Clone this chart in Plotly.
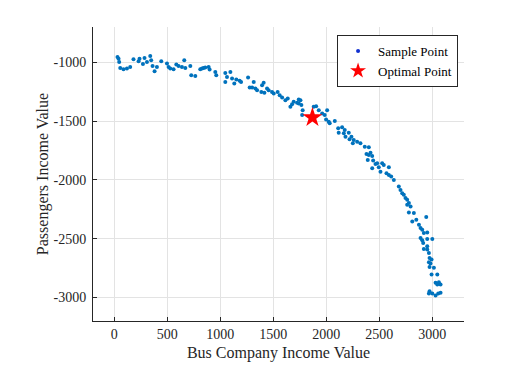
import plotly.graph_objects as go

# sample points (bus income, passengers income)
bus_income = [
    31, 41, 47, 57, 88, 120, 151, 182, 230, 239, 271, 286, 309, 340, 349, 362, 381, 403,
    444, 498, 513, 529, 560, 586, 607, 639, 661, 671, 718, 727, 765, 812, 843,
    828, 859, 891, 900, 954, 963, 1048, 1064, 1096, 1048, 1112, 1133, 1152, 1183, 1197,
    1263, 1278, 1301, 1316, 1332, 1348, 1395, 1410, 1388, 1417, 1442, 1457, 1489, 1505,
    1542, 1561, 1584, 1615, 1637, 1662, 1678, 1693, 1725, 1741,
    1741, 1757, 1766, 1778, 1773, 1882, 1905, 1930, 1962, 1986, 2009, 1999, 2024, 2033,
    2081, 2113, 2118, 2150, 2175, 2166, 2182, 2213, 2220, 2238, 2260, 2251, 2292, 2323,
    2364, 2402,
    2380, 2402, 2418, 2434, 2392, 2443, 2465, 2434, 2481, 2496, 2528, 2543, 2591, 2512,
    2569, 2591, 2613, 2638,
    2685, 2701, 2717, 2732, 2748, 2764, 2780, 2764, 2796, 2780, 2827, 2812, 2850, 2875,
    2890, 2906, 2944, 2921, 2953, 2890, 2906, 2953, 3001, 2915, 2953,
    2921, 2953, 2969, 2975, 2994, 2969, 2984, 2975, 3016, 2994, 3048, 3032, 3048, 3063,
    3079, 2975, 3001, 3057, 3032, 3079, 2969,
]
passenger_income = [
    -955, -969, -997, -1048, -1059, -1053, -1040, -975, -992, -969, -1014, -964, -997, -947, -983, -1031, -1076, -1040,
    -992, -1011, -1040, -1053, -1059, -1019, -1031, -1040, -983, -1048, -1031, -1110, -1116, -1059, -1048,
    -1053, -1045, -1040, -1062, -1082, -1110, -1091, -1125, -1082, -1167, -1138, -1181, -1147, -1158, -1167,
    -1130, -1214, -1214, -1167, -1223, -1237, -1195, -1175, -1252, -1260, -1223, -1237, -1252, -1265,
    -1252, -1280, -1299, -1322, -1308, -1379, -1356, -1336, -1345, -1316,
    -1350, -1322, -1364, -1407, -1449, -1379, -1373, -1407, -1435, -1449, -1407, -1486, -1506, -1519,
    -1500, -1562, -1599, -1553, -1576, -1604, -1633, -1599, -1655, -1633, -1661, -1689, -1675, -1689,
    -1718, -1723,
    -1780, -1788, -1769, -1797, -1831, -1836, -1864, -1901, -1858, -1892, -1858, -1873, -1892, -1930,
    -1943, -1958, -1972, -2000,
    -2057, -2085, -2113, -2127, -2155, -2169, -2197, -2212, -2226, -2277, -2282, -2353, -2339, -2381,
    -2409, -2424, -2316, -2452, -2447, -2494, -2514, -2503, -2503, -2536, -2565,
    -2587, -2593, -2621, -2664, -2678, -2701, -2712, -2740, -2748, -2805, -2805, -2875, -2890, -2870,
    -2890, -2947, -2966, -2966, -2983, -2960, -2966,
]

optimal_bus = [1870]
optimal_passenger = [-1470]

x_ticks = [0, 500, 1000, 1500, 2000, 2500, 3000]
y_ticks = [-1000, -1500, -2000, -2500, -3000]
y_tick_labels = ["-1000", "-1500", "-2000", "-2500", "-3000"]

serif = "Liberation Serif"
blue = "#0072BD"
red = "#FF0000"

fig = go.Figure()
fig.add_trace(go.Scatter(
    x=bus_income, y=passenger_income, mode="markers", showlegend=False,
    marker=dict(color=blue, size=4),
))
fig.add_trace(go.Scatter(
    x=optimal_bus, y=optimal_passenger, mode="markers", showlegend=False,
    marker=dict(color=red, symbol="star", size=15, line=dict(width=0)),
))
# legend entries with legend-sized markers
fig.add_trace(go.Scatter(
    x=[None], y=[None], mode="markers", name="Sample Point",
    marker=dict(color="#1030D0", size=4),
))
fig.add_trace(go.Scatter(
    x=[None], y=[None], mode="markers", name="Optimal Point",
    marker=dict(color=red, symbol="star", size=12, line=dict(width=0)),
))

axis_common = dict(
    showgrid=True, gridcolor="#E3E3E3", gridwidth=1,
    showline=True, linecolor="#262626", linewidth=1,
    ticks="inside", ticklen=4, tickcolor="#262626",
    zeroline=False, mirror=False,
    tickfont=dict(family=serif, size=14, color="#262626"),
)

fig.update_xaxes(
    range=[-200, 3300], tickvals=x_ticks,
    title=dict(text="Bus Company Income Value", font=dict(family=serif, size=16, color="#262626"), standoff=6),
    **axis_common,
)
fig.update_yaxes(
    range=[-3200, -700], tickvals=y_ticks, ticktext=y_tick_labels,
    ticklabelstandoff=3,
    title=dict(text="Passengers Income Value", font=dict(family=serif, size=16, color="#262626"), standoff=0),
    **axis_common,
)

# the page adds an 8px body margin, so the margins are shifted to compensate
fig.update_layout(
    width=526, height=389,
    margin=dict(l=85, r=70, t=19, b=76),
    plot_bgcolor="white", paper_bgcolor="white",
    showlegend=True,
    legend=dict(
        x=0.984, y=0.973, xanchor="right", yanchor="top",
        bgcolor="white", bordercolor="#262626", borderwidth=1,
        font=dict(family=serif, size=13, color="#000000"),
        tracegroupgap=0, itemsizing="trace",
    ),
)

fig.write_html("out.html")
